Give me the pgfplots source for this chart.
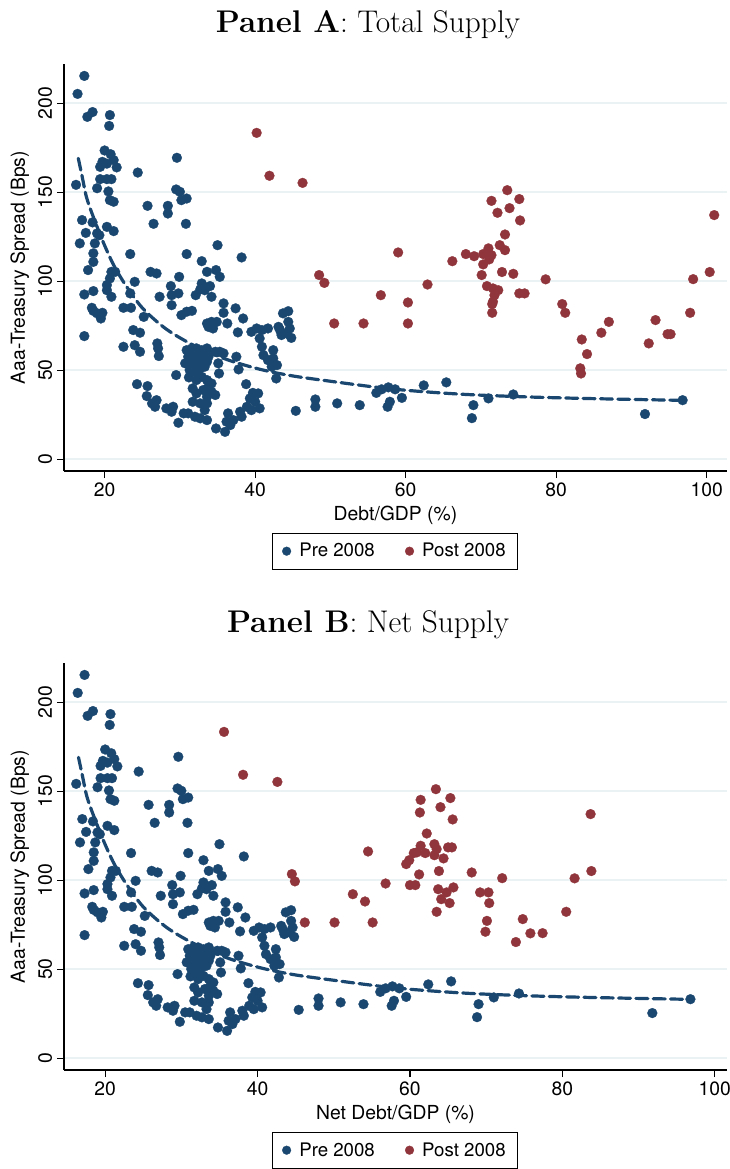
\documentclass[border=0pt]{standalone}
\usepackage{fontspec}
\setsansfont{TeX Gyre Heros}
\usepackage{pgfplots}
\usepackage{pgfplotstable}
\pgfplotsset{compat=1.18}
\definecolor{stnavy}{RGB}{26,71,111}
\definecolor{stmaroon}{RGB}{144,53,59}
\definecolor{gridc}{RGB}{234,242,243}

\pgfplotstableread{
x y
17.3 215.3
16.4 205.2
18.4 195
17.7 192.3
20.7 193.3
20.6 187.2
20.0 173.4
20.8 171.3
19.7 167
21.2 168
20.3 166
19.4 164.2
21.6 163.9
29.6 169.3
24.4 161
16.2 154.1
19.4 157.3
20.3 157.3
20.9 157.3
19.0 152.2
20.5 150.4
20.7 145.5
21.2 144.6
29.5 151.5
30.0 150.2
30.2 145.5
30.9 146.4
25.7 142.3
28.4 142.3
28.4 138
26.5 132.2
30.8 132.2
17.0 134.3
18.4 133
17.5 127.1
19.0 126.8
19.3 125.8
20.3 130.5
21.2 128.1
16.7 121.2
18.7 121.2
35.0 120.2
18.5 115.6
23.4 115.2
30.9 115.2
18.5 110.8
32.9 111.2
38.2 113.3
17.8 106.2
20.9 105.2
21.4 105.2
33.6 105.2
34.8 106.2
35.3 102.4
26.1 105.2
26.9 104.3
29.9 102.4
20.7 101.5
20.3 97.8
24.0 99.6
28.8 97.2
32.9 98.7
34.0 97.2
33.3 94.9
32.7 95.3
17.3 92.5
18.5 94.4
20.3 94.9
20.9 91.2
23.4 93.1
27.3 91.2
28.9 92.1
29.8 93.1
28.9 86.5
32.1 92.1
34.2 91.2
18.3 85
18.5 83.3
19.0 81.9
19.7 82.2
19.5 79
22.5 85
23.5 85
25.2 79.9
30.2 80.9
30.9 82.8
31.6 83.3
35.8 87.5
35.8 82.2
37.4 84.7
38.4 79
36.3 76.2
33.6 76.2
34.2 77.1
34.9 77.1
34.4 73.4
33.8 74.3
37.7 71.2
39.5 71.5
40.2 73.4
40.9 72.5
41.7 73.4
43.1 74.3
43.7 81.9
44.4 83.1
44.4 77.1
44.6 73.4
44.8 68.1
44.2 70.6
43.3 72.5
43.5 69.7
17.3 69.1
23.8 72.5
24.7 71
22.5 63.1
24.0 64
24.7 60.3
27.0 65
27.1 62.2
27.2 57.9
30.9 61.2
31.6 62.2
32.2 62.2
32.9 61.2
33.6 62.2
31.1 57.5
31.8 58.4
32.4 57.5
33.1 58.4
33.8 57.5
30.7 53.8
31.6 53.8
32.2 52.8
32.9 54.7
33.6 54.7
31.3 50
32.0 49
32.7 51
33.3 51.9
34.7 60.3
35.3 60.3
35.8 59.4
35.1 53.8
37.5 57.5
37.8 50.4
35.2 48.1
29.5 47.2
40.6 67.8
40.9 63.1
41.1 58.4
41.7 55.6
42.4 56.6
42.9 52.8
42.2 51.9
42.8 45.3
42.4 61.2
31.2 45.9
32.2 44.4
32.9 46.2
33.6 44.4
34.2 42.5
24.3 42.1
25.7 41
25.6 35.4
26.3 31.3
26.9 33.1
26.7 29.4
31.7 39.7
32.2 36.9
33.1 38.8
33.8 40.6
34.2 37.8
34.7 36
33.6 35
31.7 32.2
32.7 31.3
33.6 31.3
33.3 27.5
38.8 42.1
39.7 37.2
40.4 36.9
39.3 34.1
40.0 32.2
40.6 28.5
38.9 29.4
39.5 27.5
38.0 26.6
38.2 23.8
37.1 21.9
36.4 25.7
36.2 21
36.7 19.1
36.0 15.3
34.8 17.2
28.2 28.5
29.1 29.4
28.9 26.6
29.8 20.4
30.5 25.7
31.1 25.7
32.0 23.8
32.7 22.9
33.6 21.9
45.4 27.1
48.0 33.5
48.0 29.4
50.9 31.3
53.9 30.3
56.1 37.2
56.8 39.2
57.7 40.3
58.6 39.2
57.9 32.2
57.6 29.4
59.5 34.4
62.4 41.4
65.4 43.1
69.0 30.3
68.8 23
71.0 34.1
74.3 36.3
91.8 25.3
96.8 33.1
}\preData

\pgfplotstableread{
x y
40.2 183.3
41.9 159.2
46.3 155.2
48.5 103.4
49.2 99
50.5 76.2
54.4 76.2
56.7 92.1
59.0 116.1
60.3 88
60.3 76.2
62.9 98.1
66.2 111.2
68.0 115.2
69.1 114
70.3 115.2
71.0 118.4
71.4 114.6
71.1 112.2
70.3 109.4
70.1 103.4
72.5 120.2
73.2 117.4
73.2 126.2
71.4 145.1
72.2 138.4
73.5 151.1
73.8 141
75.1 146.1
75.2 134.1
72.8 105.1
74.3 104.1
70.8 97.2
71.6 95.9
72.3 94.9
71.8 92.1
71.6 88.4
71.5 87.1
71.5 82.2
75.1 93.1
75.8 93.1
78.6 101
80.8 87.1
81.2 82.2
83.4 67.2
84.1 59
83.2 51
83.3 48.1
86.0 71
87.0 77.1
92.3 65
93.2 78.1
94.8 70.2
95.2 70.2
97.8 82.2
98.2 101.1
100.4 105.1
101.0 137.1
}\postA

\pgfplotstableread{
x y
35.6 183.3
38.1 159.2
42.6 155.2
44.5 103.4
44.9 99.3
46.2 76.2
50.1 76.2
52.5 92.1
54.1 88
55.1 76.2
54.5 116.1
56.8 98.1
59.5 109
59.9 111.2
60.5 115.2
60.9 115.6
61.4 119.3
62.0 115.2
63.2 120.2
63.5 117.4
63.2 114
64.4 112.2
65.0 118.4
65.5 118.4
62.2 126.2
61.4 145.1
61.3 138
63.4 151.1
64.0 141
65.3 146.1
65.6 134.1
61.2 103.2
63.8 105.1
60.0 97.2
60.7 97.2
63.7 94.9
64.1 89.3
63.5 82.2
64.8 93.1
65.7 95.9
65.2 87.1
68.1 104.3
69.2 93.1
70.3 93.1
70.4 87.1
72.1 101.1
70.1 77.1
69.9 71
73.9 65.2
74.8 78.1
75.8 70.1
77.4 70.2
80.5 82.2
81.6 101
83.8 105.1
83.7 137.1
}\postB

\pgfplotstableread{
x y
16.5 169
17.0 159
17.6 147
18.5 136
19.8 122
21.2 109
22.9 97
25.1 84.5
28.2 73
31.8 64
36.2 56
40.6 50.5
44.6 47
49.0 44.3
57.9 39.5
66.8 36.6
75.6 35
84.5 34
96.8 33
}\fitData

\pgfplotsset{
  stataax/.style={
    scale only axis,
    width=497.25pt, height=305.25pt,
    anchor=south west,
    ymin=-6.7, ymax=222,
    xtick={20,40,60,80,100},
    ytick={0,50,100,150,200},
    axis x line=bottom, axis y line=left,
    axis line style={-, black, line width=0.8pt},
    tick align=outside,
    major tick length=5.25pt,
    every tick/.style={black, line width=0.8pt},
    ymajorgrids,
    major grid style={color=gridc, line width=1.1pt},
    /pgf/number format/assume math mode=true,
    tick label style={font=\sffamily\fontsize{14.5}{17}\selectfont},
    y tick label style={rotate=90, anchor=south},
    label style={font=\sffamily\fontsize{14.5}{17}\selectfont},
    ylabel={Aaa-Treasury Spread (Bps)},
    legend columns=2,
    legend style={at={(0.499,-0.197)}, anchor=center, draw=black, line width=0.6pt,
      font=\sffamily\fontsize{14}{16}\selectfont, inner xsep=7pt, inner ysep=5.5pt,
      /tikz/every even column/.append style={column sep=20pt}},
    legend cell align=left,
    legend image code/.code={%
      \path[draw=none,fill=none] (-4pt,0pt) rectangle (7.5pt,0pt);
      \draw[#1, mark size=3.3pt] plot coordinates {(0pt,0pt)};},
  },
  pre/.style={only marks, mark=*, mark size=3.7pt, color=stnavy, mark options={draw=stnavy, fill=stnavy, line width=0.2pt}},
  post/.style={only marks, mark=*, mark size=3.7pt, color=stmaroon, mark options={draw=stmaroon, fill=stmaroon, line width=0.2pt}},
  fit/.style={no marks, color=stnavy, line width=2.4pt, dash pattern=on 9pt off 4pt, line cap=round, smooth, forget plot},
}

\begin{document}
\begin{tikzpicture}
\useasboundingbox (0,0) rectangle (547.5pt,-876.75pt);

\begin{axis}[stataax, at={(48pt,-353.25pt)}, xmin=14.6, xmax=102.7, xlabel={Debt/GDP (\%)}]
\addplot[pre] table {\preData};
\addlegendentry{Pre 2008}
\addplot[post] table {\postA};
\addlegendentry{Post 2008}
\addplot[fit] table {\fitData};
\end{axis}

\begin{axis}[stataax, at={(48pt,-802.5pt)}, xmin=14.6, xmax=101.6, xlabel={Net Debt/GDP (\%)}]
\addplot[pre] table {\preData};
\addlegendentry{Pre 2008}
\addplot[post] table {\postB};
\addlegendentry{Post 2008}
\addplot[fit] table {\fitData};
\end{axis}

\node[anchor=base] at (276pt,-24.75pt) {\fontsize{23.5}{27}\selectfont\textbf{Panel A}: Total Supply};
\node[anchor=base] at (276pt,-474pt) {\fontsize{23.5}{27}\selectfont\textbf{Panel B}: Net Supply};
\end{tikzpicture}
\end{document}
